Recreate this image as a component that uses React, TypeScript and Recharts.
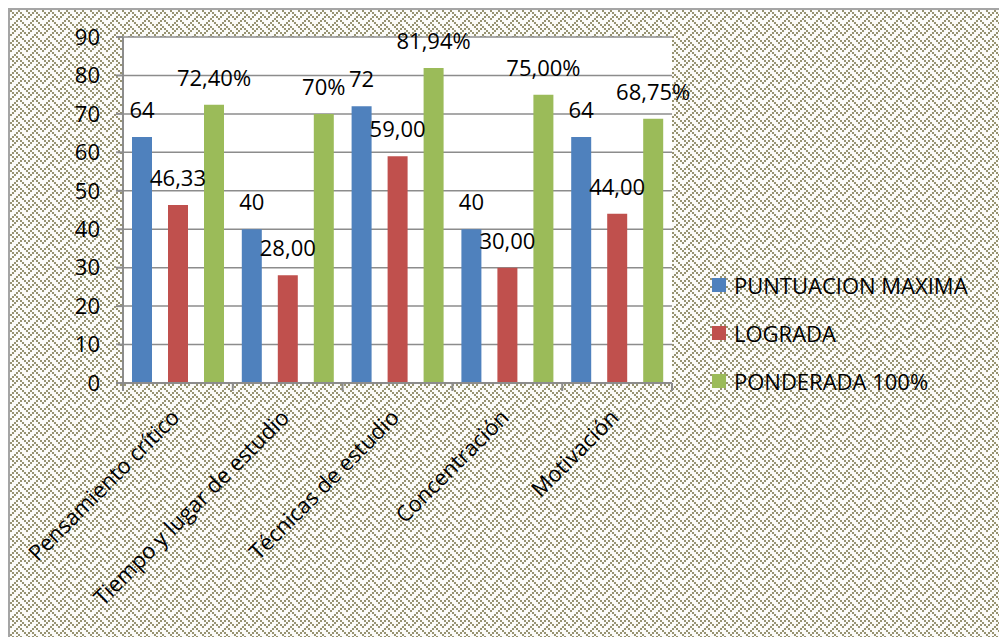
import { BarChart, Bar, XAxis, YAxis, CartesianGrid, LabelList, Legend } from 'recharts'

const categories = [
  'Pensamiento crítico',
  'Tiempo y lugar de estudio',
  'Técnicas de estudio',
  'Concentración',
  'Motivación',
]
const puntuacionMaxima = [64, 40, 72, 40, 64]
const lograda = [46.33, 28, 59, 30, 44]
const ponderada = [72.4, 70, 81.94, 75, 68.75]
const ponderadaLabels = ['72,40%', '70%', '81,94%', '75,00%', '68,75%']
const yTicks = [0, 10, 20, 30, 40, 50, 60, 70, 80, 90]
const seriesNames = ['PUNTUACION MAXIMA', 'LOGRADA', 'PONDERADA 100%']

const data = categories.map((name, i) => ({
  name,
  max: puntuacionMaxima[i],
  lograda: lograda[i],
  ponderada: ponderada[i],
  ponderadaLabel: ponderadaLabels[i],
}))

const BLUE = '#4f81bd'
const RED = '#c0504d'
const GREEN = '#9bbb59'
const AXIS = '#8c8c8c'
const FONT = '"Open Sans", sans-serif'

// excel "weave" fill, 8x8 bits
const weaveBits = [0x88, 0x54, 0x22, 0x45, 0x88, 0x14, 0x22, 0x51]
const cell = 2
let rects = ''
weaveBits.forEach((row, r) => {
  for (let c = 0; c < 8; c++) {
    if (row & (0x80 >> c)) {
      rects += `<rect x='${c * cell}' y='${r * cell}' width='${cell}' height='${cell}'/>`
    }
  }
})
const weave = `url("data:image/svg+xml,${encodeURIComponent(
  `<svg xmlns='http://www.w3.org/2000/svg' width='${8 * cell}' height='${8 * cell}'><rect width='100%' height='100%' fill='#fbfbf8'/><g fill='#979371'>${rects}</g></svg>`
)}")`

function XTick(props: any) {
  const { x, y, payload, index } = props
  const half = payload?.offset ?? 55
  const ex = x + 3
  const ey = y + 28
  return (
    <g>
      <line x1={x - half} y1={y - 8} x2={x - half} y2={y} stroke={AXIS} strokeWidth={2} />
      {index === categories.length - 1 && (
        <line x1={x + half} y1={y - 8} x2={x + half} y2={y} stroke={AXIS} strokeWidth={2} />
      )}
      <text
        x={ex}
        y={ey}
        textAnchor="end"
        fontSize={22}
        fontFamily={FONT}
        fill="#000"
        transform={`rotate(-45 ${ex} ${ey})`}
      >
        {payload.value}
      </text>
    </g>
  )
}

function renderLegend(props: any) {
  const items = [...(props.payload || [])].sort(
    (a: any, b: any) => seriesNames.indexOf(a.value) - seriesNames.indexOf(b.value)
  )
  return (
    <div style={{ fontFamily: FONT, fontSize: 22, color: '#000' }}>
      {items.map((item: any) => (
        <div key={item.value} style={{ display: 'flex', alignItems: 'center', height: 48 }}>
          <span style={{ width: 14, height: 14, background: item.color, marginRight: 8 }} />
          <span>{item.value}</span>
        </div>
      ))}
    </div>
  )
}

const labelStyle = { fontSize: 22, fontFamily: FONT, fill: '#000' }

export default function App() {
  return (
    <div
      style={{
        position: 'relative',
        width: 999,
        height: 629,
        boxSizing: 'border-box',
        borderLeft: '2px solid #a5a5a5',
        borderTop: '2px solid #a5a5a5',
        backgroundImage: weave,
        overflow: 'hidden',
      }}
    >
      <BarChart
        width={997}
        height={627}
        data={data}
        margin={{ top: 27, right: 35, bottom: 0, left: 0 }}
        barSize={20}
        barGap={16}
      >
        <CartesianGrid vertical={false} stroke={AXIS} strokeWidth={1.5} fill="#fff" fillOpacity={1} />
        <XAxis
          dataKey="name"
          height={254}
          interval={0}
          tickLine={false}
          tickSize={8}
          tickMargin={0}
          axisLine={{ stroke: AXIS, strokeWidth: 2 }}
          tick={<XTick />}
        />
        <YAxis
          width={113}
          domain={[0, 90]}
          ticks={yTicks}
          interval={0}
          tickSize={7}
          tickMargin={16}
          axisLine={{ stroke: AXIS, strokeWidth: 2 }}
          tickLine={{ stroke: AXIS, strokeWidth: 2 }}
          tick={{ fontSize: 22, fontFamily: FONT, fill: '#000' }}
        />
        <Legend
          layout="vertical"
          verticalAlign="top"
          align="right"
          wrapperStyle={{ left: 702, top: 251, width: 300 }}
          content={renderLegend}
        />
        <Bar dataKey="max" name={seriesNames[0]} fill={BLUE} isAnimationActive={false}>
          <LabelList dataKey="max" position="top" offset={19} style={labelStyle} />
        </Bar>
        <Bar dataKey="lograda" name={seriesNames[1]} fill={RED} isAnimationActive={false}>
          <LabelList
            dataKey="lograda"
            position="top"
            offset={19}
            style={labelStyle}
            formatter={(v: any) => Number(v).toFixed(2).replace('.', ',')}
          />
        </Bar>
        <Bar dataKey="ponderada" name={seriesNames[2]} fill={GREEN} isAnimationActive={false}>
          <LabelList dataKey="ponderadaLabel" position="top" offset={19} style={labelStyle} />
        </Bar>
      </BarChart>
    </div>
  )
}
